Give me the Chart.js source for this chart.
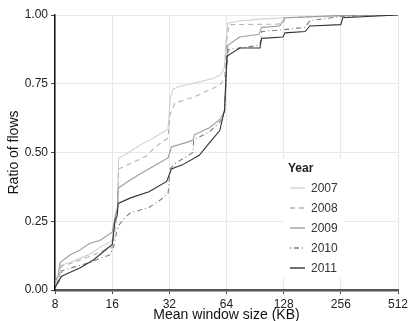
<!DOCTYPE html>
<html lang="en">
<head>
  <meta charset="UTF-8">
  <title>Ratio of flows by mean window size</title>
  <script src="https://cdn.jsdelivr.net/npm/chart.js"></script>
  <style>
    body { margin: 0; background: #ffffff; }
    #wrap { width: 412px; height: 321px; }
  </style>
</head>
<body>
  <div id="wrap"><canvas id="cdf" width="412" height="321"></canvas></div>

  <script>
    // values (x = KB, y = ratio of flows)
    const years = ['2007', '2008', '2009', '2010', '2011'];
    const xTicks = [8, 16, 32, 64, 128, 256, 512];
    const yTicks = [0, 0.25, 0.5, 0.75, 1];

    const size2007 = [8, 8.4, 8.6, 9.6, 10.8, 12.2, 13.8, 15.2, 16, 16.5, 17.1, 17.3, 18.5, 20.5, 23.5, 26, 29, 31.5, 32, 32.4, 33.5, 36, 45, 55, 60, 62.5, 63.5, 65, 75, 96, 130, 224, 512];
    const ratio2007 = [0.03, 0.04, 0.09, 0.10, 0.115, 0.13, 0.155, 0.17, 0.18, 0.25, 0.30, 0.48, 0.49, 0.51, 0.535, 0.55, 0.57, 0.585, 0.65, 0.70, 0.73, 0.74, 0.755, 0.77, 0.785, 0.81, 0.90, 0.97, 0.978, 0.985, 0.99, 0.995, 1];

    const size2008 = [8, 8.4, 8.6, 10, 12, 14, 16, 16.6, 17.1, 17.3, 19.9, 24, 27, 31.5, 32.3, 34.3, 42.6, 59, 62.5, 64, 66, 127, 130, 256, 512];
    const ratio2008 = [0.02, 0.035, 0.085, 0.10, 0.12, 0.14, 0.155, 0.22, 0.29, 0.44, 0.46, 0.485, 0.52, 0.553, 0.64, 0.68, 0.70, 0.745, 0.77, 0.90, 0.965, 0.967, 0.99, 0.998, 1];

    const size2009 = [8, 8.3, 8.5, 9.6, 10.8, 12.2, 13.8, 15.2, 16, 16.6, 17.1, 17.2, 19.9, 23.5, 28, 31.5, 32.8, 38.7, 42.6, 43.5, 52, 59, 62.5, 64, 65, 75, 95, 98, 122, 130, 256, 512];
    const ratio2009 = [0.03, 0.05, 0.10, 0.127, 0.145, 0.17, 0.18, 0.20, 0.21, 0.27, 0.30, 0.37, 0.40, 0.43, 0.46, 0.48, 0.52, 0.535, 0.545, 0.565, 0.59, 0.62, 0.65, 0.80, 0.89, 0.92, 0.93, 0.955, 0.96, 0.99, 0.998, 1];

    const size2010 = [8, 8.4, 8.7, 10.8, 12.2, 13.8, 15.5, 16.2, 17, 17.4, 18.5, 19.9, 25, 29, 31.5, 32.3, 34.3, 42.6, 43, 52, 59, 62.5, 64, 65.5, 85, 96, 98, 122, 166, 176, 262, 512];
    const ratio2010 = [0.01, 0.03, 0.07, 0.09, 0.10, 0.115, 0.127, 0.15, 0.22, 0.237, 0.26, 0.28, 0.30, 0.33, 0.35, 0.44, 0.46, 0.50, 0.546, 0.575, 0.61, 0.64, 0.80, 0.875, 0.885, 0.89, 0.94, 0.945, 0.955, 0.98, 0.995, 1];

    const size2011 = [8, 8.3, 8.7, 9.3, 10.8, 12.8, 15, 16, 16.6, 17, 17.2, 20, 25, 31, 32.8, 37.5, 46, 52, 59, 62.5, 64.3, 75, 96, 98, 127, 130, 166, 176, 256, 262, 512];
    const ratio2011 = [0.007, 0.03, 0.05, 0.06, 0.08, 0.11, 0.15, 0.165, 0.255, 0.27, 0.315, 0.335, 0.357, 0.395, 0.44, 0.455, 0.49, 0.535, 0.58, 0.655, 0.85, 0.88, 0.88, 0.915, 0.92, 0.935, 0.94, 0.96, 0.965, 0.99, 1];

    const sizes = [size2007, size2008, size2009, size2010, size2011];
    const ratios = [ratio2007, ratio2008, ratio2009, ratio2010, ratio2011];

    const lineColors = ['#d0d0d0', '#b4b4b4', '#9c9c9c', '#7c7c7c', '#333333'];
    const lineDashes = [[], [5, 4], [], [1, 3, 5, 3], []];

    const font = '"Liberation Sans", Arial, sans-serif';

    // legend inside the plot, like the original
    const yearLegend = {
      id: 'yearLegend',
      afterDraw(chart) {
        const c = chart.ctx;
        c.save();
        c.fillStyle = '#ffffff';
        c.fillRect(283, 159, 61, 119);
        c.fillStyle = '#222';
        c.font = 'bold 12px ' + font;
        c.textBaseline = 'middle';
        c.fillText('Year', 288, 169);
        chart.data.datasets.forEach((ds, i) => {
          const y = 188 + i * 20;
          c.strokeStyle = ds.borderColor;
          c.lineWidth = 1.4;
          c.setLineDash(ds.borderDash);
          c.beginPath();
          c.moveTo(290, y);
          c.lineTo(305, y);
          c.stroke();
          c.setLineDash([]);
          c.fillStyle = '#333';
          c.font = '12px ' + font;
          c.fillText(ds.label, 311, y + 0.5);
        });
        c.restore();
      }
    };

    new Chart(document.getElementById('cdf'), {
      type: 'line',
      data: {
        datasets: years.map((yr, i) => ({
          label: yr,
          data: sizes[i].map((s, j) => ({ x: s, y: ratios[i][j] })),
          borderColor: lineColors[i],
          borderDash: lineDashes[i],
          borderWidth: 1.1,
          pointRadius: 0,
          tension: 0,
          fill: false,
          order: years.length - i
        }))
      },
      options: {
        responsive: false,
        animation: false,
        layout: { padding: { top: 15, right: 14, left: 6, bottom: 0 } },
        plugins: {
          legend: { display: false },
          tooltip: { enabled: false }
        },
        scales: {
          x: {
            type: 'logarithmic',
            min: 8,
            max: 512,
            afterBuildTicks: s => { s.ticks = xTicks.map(v => ({ value: v })); },
            afterFit: s => { s.height = 31; },
            ticks: {
              autoSkip: false,
              maxRotation: 0,
              padding: 3,
              color: '#222',
              font: { family: font, size: 12 },
              callback: v => String(v)
            },
            grid: { color: '#e8e8e8', tickColor: '#444', tickLength: 4 },
            border: { color: '#555', width: 2.5 },
            title: {
              display: true,
              text: 'Mean window size (KB)',
              color: '#111',
              font: { family: font, size: 14 },
              padding: { top: -1, bottom: -3 }
            }
          },
          y: {
            min: 0,
            max: 1,
            afterBuildTicks: s => { s.ticks = yTicks.map(v => ({ value: v })); },
            afterFit: s => { s.width = 49; },
            ticks: {
              padding: 3,
              color: '#222',
              font: { family: font, size: 12 },
              callback: v => v.toFixed(2)
            },
            grid: { color: '#e8e8e8', tickColor: '#444', tickLength: 4 },
            border: { color: '#111', width: 1.5 },
            title: {
              display: true,
              text: 'Ratio of flows',
              color: '#111',
              font: { family: font, size: 14 },
              padding: { top: 0, bottom: 0 }
            }
          }
        }
      },
      plugins: [yearLegend]
    });
  </script>
</body>
</html>
